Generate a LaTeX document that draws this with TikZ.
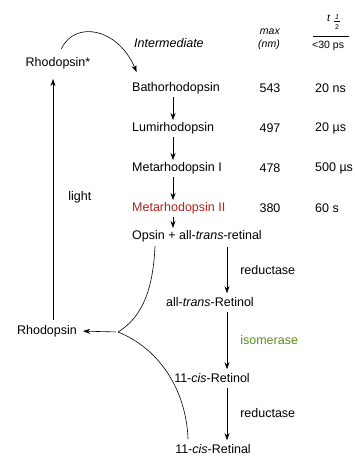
\documentclass[tikz,border=0pt]{standalone}
\usepackage{amsmath}
\usepackage{fontspec}
\setmainfont{Liberation Sans}
\usetikzlibrary{arrows.meta,positioning}
\definecolor{metared}{RGB}{175,35,30}
\definecolor{isogreen}{RGB}{95,140,35}

\begin{document}
\begin{tikzpicture}[x=1pt,y=-1pt,>={Stealth[length=7pt,width=5pt]},inner sep=1pt,
  font=\fontsize{12.5}{14}\selectfont]
\tikzset{small/.style={font=\fontsize{10.5}{12}\selectfont},
  flow/.style={->,line width=0.6pt,shorten >=1pt,shorten <=2pt}}
\useasboundingbox (0,0) rectangle (355,458);

% header
\node (IM) [anchor=west] at (133,43) {\textit{Intermediate}};
\node (MX) [small] at (270,32) {\textit{max}};
\node (NM) [small] at (269,45) {\textit{(nm)}};
\node (TH) [small,anchor=base west] at (326,21) {\textit{t}};
\node (TF) [inner sep=0pt,anchor=north] at (337,14) {\shortstack{\scriptsize\itshape 1\\[-1pt]\rule{6pt}{0.4pt}\\[0pt]\scriptsize 2}};
\node (T0) [small,anchor=west] at (311,46) {<30 ps};
\draw[line width=0.6pt] (313,36) -- (349,36);

% intermediates
\coordinate (ix) at (173,0);
\node (RS) at (58,63) {Rhodopsin*};
\node (BA) [anchor=west] at (131,88) {Bathorhodopsin};
\node (LU) [anchor=west] at (131,128) {Lumirhodopsin};
\node (M1) [anchor=west] at (131,168) {Metarhodopsin I};
\node (M2) [anchor=west,text=metared] at (131,208) {Metarhodopsin II};
\node (OP) [anchor=west] at (131,236) {Opsin + all-\textit{trans}-retinal};

\node (n1) at (270,88) {543};
\node (n2) at (270,128) {497};
\node (n3) at (270,168) {478};
\node (n4) at (270,208) {380};
\node (t1) [anchor=west] at (314,88) {20 ns};
\node (t2) [anchor=west] at (314,128) {20 µs};
\node (t3) [anchor=west] at (314,168) {500 µs};
\node (t4) [anchor=west] at (314,208) {60 s};

\draw[flow] (BA.south -| ix) -- (LU.north -| ix);
\draw[flow] (LU.south -| ix) -- (M1.north -| ix);
\draw[flow] (M1.south -| ix) -- (M2.north -| ix);
\draw[flow] (M2.south -| ix) -- (OP.north -| ix);

% retinal cycle
\coordinate (ax) at (227,0);
\node (ATR) at (210,302) {all-\textit{trans}-Retinol};
\node (CRO) at (212,378) {11-\textit{cis}-Retinol};
\node (CRL) at (213,449) {11-\textit{cis}-Retinal};
\node (RH) at (47,331) {Rhodopsin};

\draw[flow,shorten <=4pt,shorten >=3pt] (OP.south -| ax) -- node[right=12pt] {reductase} (ATR.north -| ax);
\draw[flow,shorten <=4pt,shorten >=3pt] (ATR.south -| ax) -- node[right=12pt,text=isogreen] {isomerase} (CRO.north -| ax);
\draw[flow,shorten <=4pt,shorten >=3pt] (CRO.south -| ax) -- node[right=12pt] {reductase} (CRL.north -| ax);

% light path
\coordinate (lx) at (53,0);
\draw[flow,shorten >=9pt,shorten <=4pt] (RH.north -| lx) -- node[right=14pt] {light} (RS.south -| lx);
\draw[flow,shorten <=8pt] (RS.north) .. controls (75,20) and (118,28) .. ([xshift=6pt,yshift=8pt]BA.north west);

% regeneration
\coordinate (J) at (118,332);
\draw[line width=0.6pt] ([xshift=24pt,yshift=-3pt]OP.south west) .. controls (153,292) and (141,318) .. (J);
\draw[line width=0.6pt] (J) .. controls (158,348) and (186,388) .. ([xshift=14pt,yshift=4pt]CRL.north west);
\draw[flow,shorten >=5pt] (J) -- (RH.east);
\end{tikzpicture}
\end{document}
